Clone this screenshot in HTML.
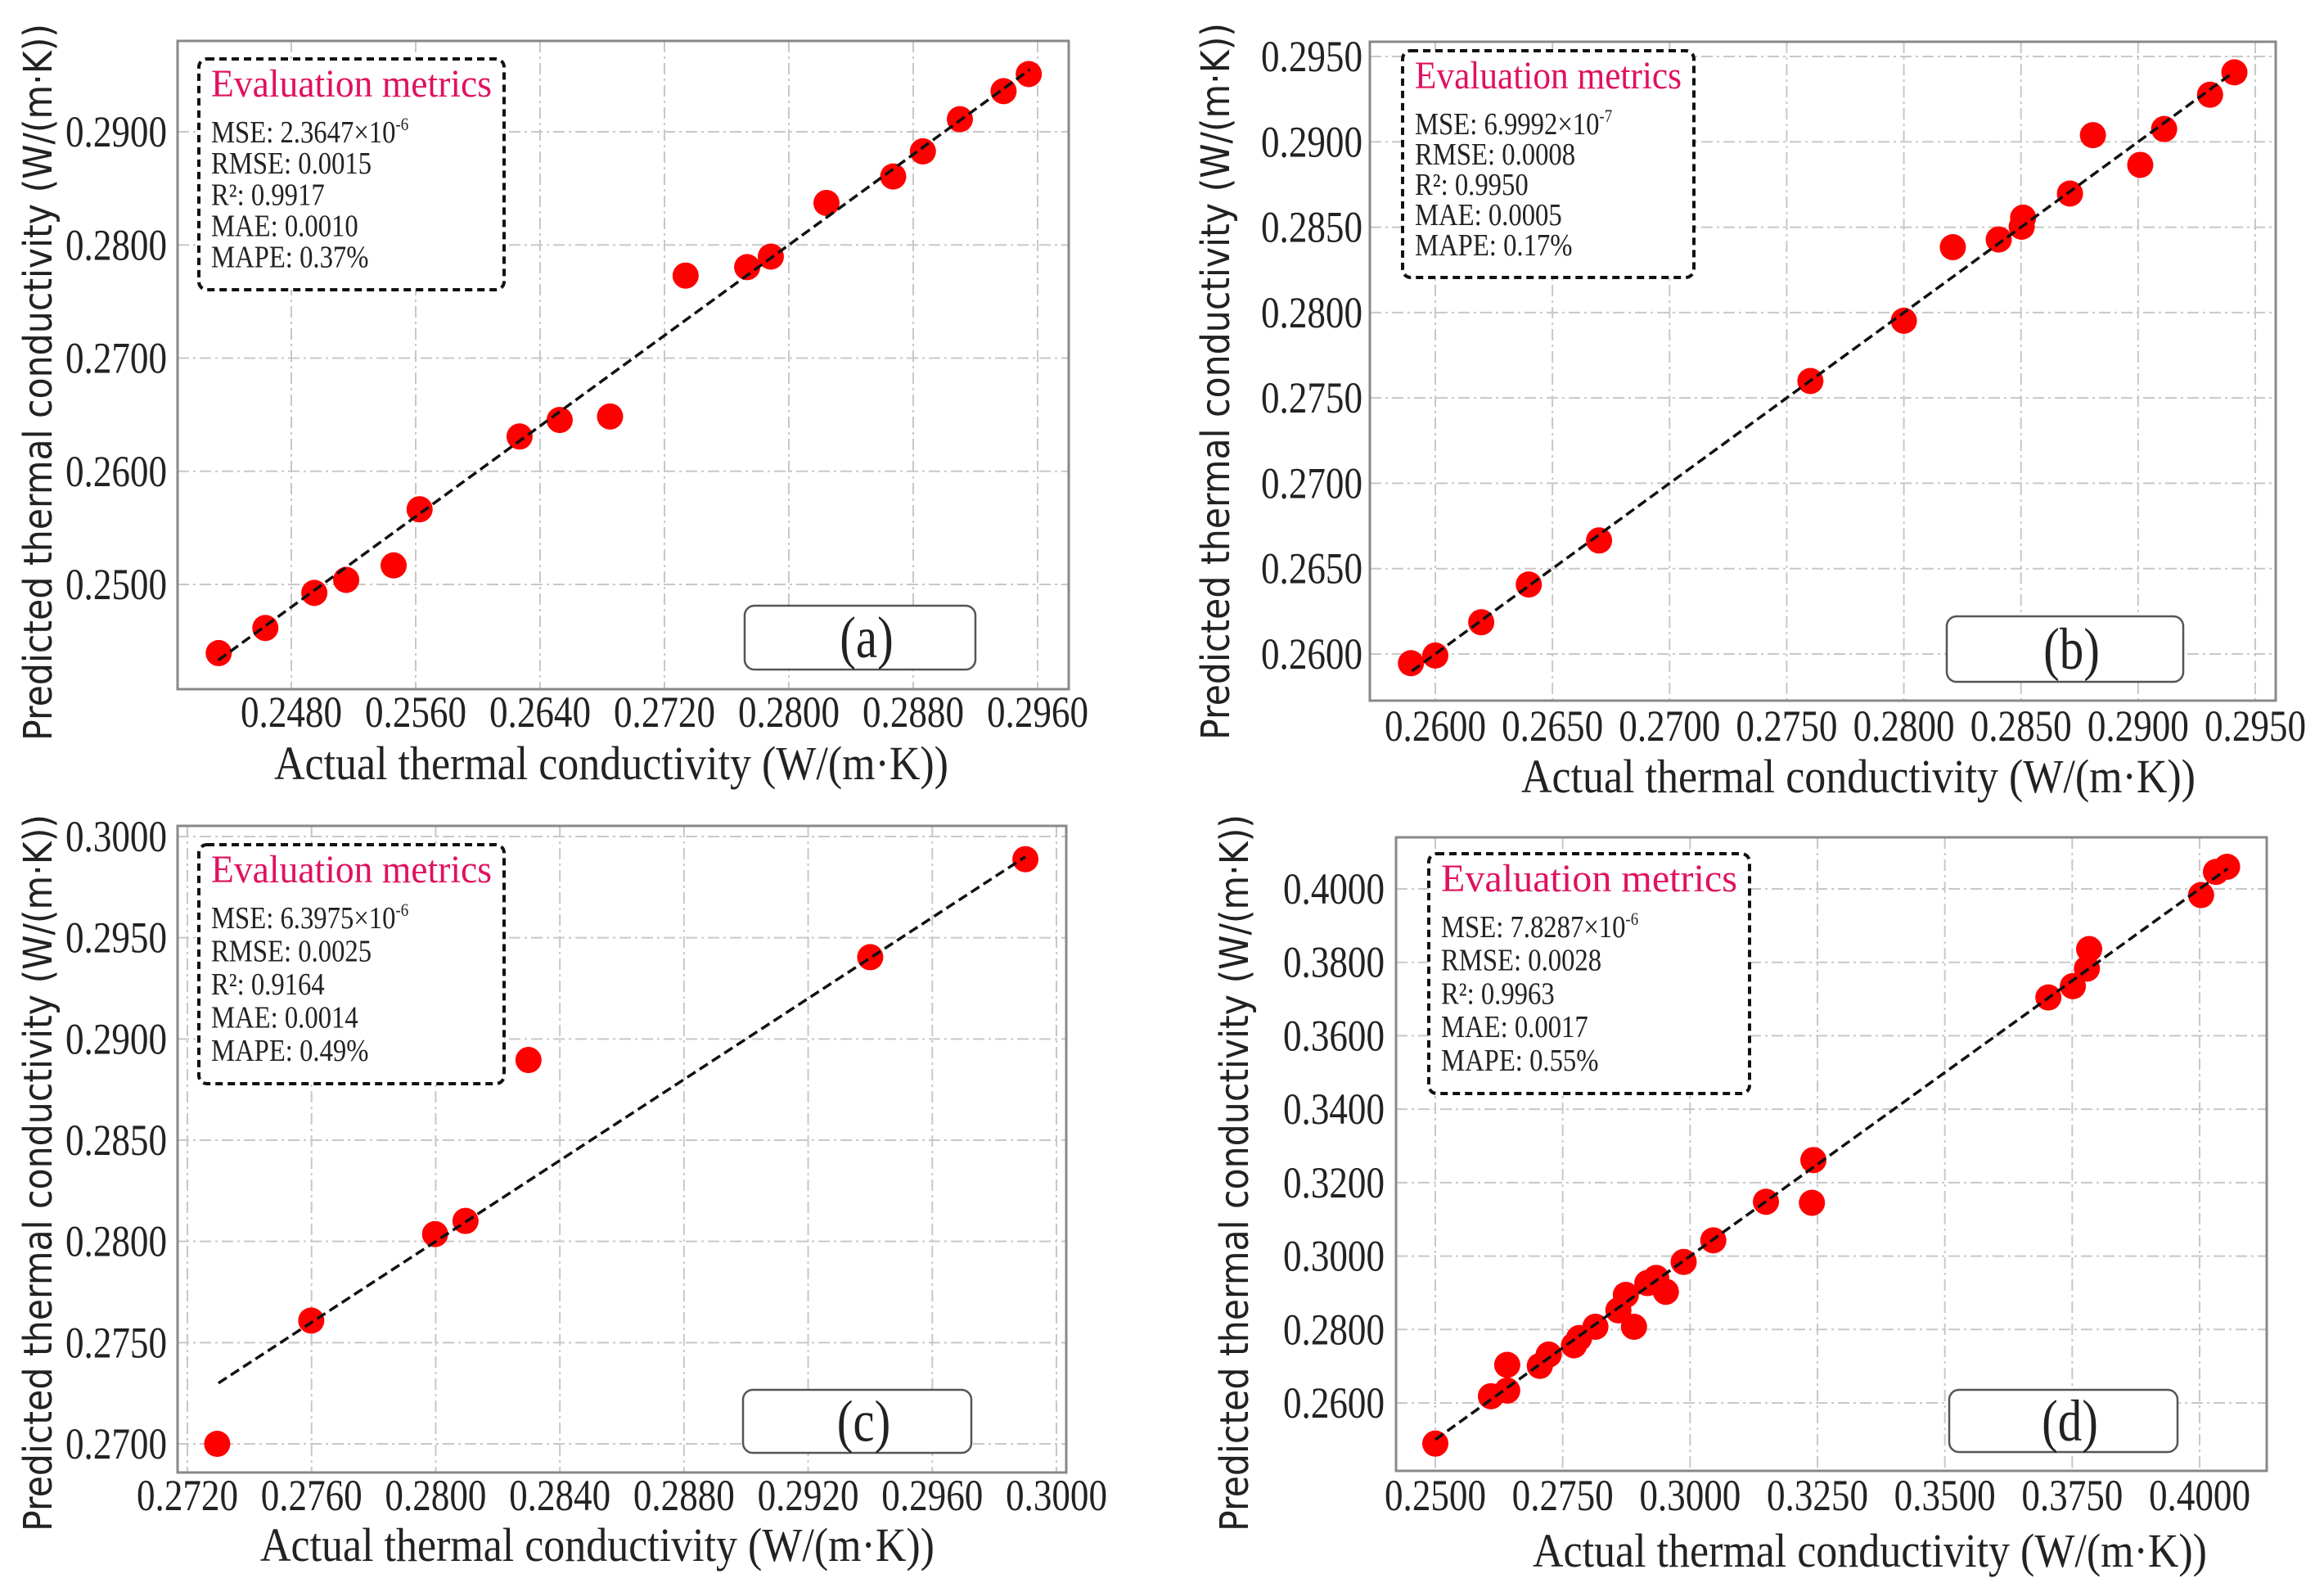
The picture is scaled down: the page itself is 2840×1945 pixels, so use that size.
<!DOCTYPE html>
<html><head><meta charset="utf-8">
<style>
html,body{margin:0;padding:0;background:#fff;overflow:hidden;}
svg{display:block;}
</style></head>
<body>
<svg id="fig" xmlns="http://www.w3.org/2000/svg" width="2840" height="1945" viewBox="0 0 2840 1945"></svg>
<script>
// ---- Panel (a) data ----
const aActual = [0.24333,0.24633,0.24948,0.25153,0.25458,0.25625,0.26268,0.26526,0.26850,0.27336,0.27732,0.27884,0.28242,0.28671,0.28862,0.29100,0.29381,0.29543];
const aPred   = [0.24393,0.24615,0.24925,0.25040,0.25168,0.25664,0.26307,0.26453,0.26484,0.27729,0.27804,0.27897,0.28371,0.28605,0.28827,0.29111,0.29359,0.29510];
const aXTicks = [0.2480,0.2560,0.2640,0.2720,0.2800,0.2880,0.2960];
const aYTicks = [0.2500,0.2600,0.2700,0.2800,0.2900];
const aLine = [0.2433,0.2955];
const aMetrics = ["MSE: 2.3647×10","RMSE: 0.0015","R²: 0.9917","MAE: 0.0010","MAPE: 0.37%"];
const aExp = "-6";
// ---- Panel (b) data ----
const bActual = [0.25896,0.26000,0.26196,0.26399,0.26699,0.27601,0.28000,0.28209,0.28405,0.28503,0.28509,0.28709,0.28807,0.29009,0.29111,0.29307,0.29411];
const bPred   = [0.25946,0.25991,0.26186,0.26407,0.26665,0.27599,0.27952,0.28383,0.28428,0.28503,0.28556,0.28697,0.29039,0.28865,0.29075,0.29276,0.29407];
const bXTicks = [0.2600,0.2650,0.2700,0.2750,0.2800,0.2850,0.2900,0.2950];
const bYTicks = [0.2600,0.2650,0.2700,0.2750,0.2800,0.2850,0.2900,0.2950];
const bLine = [0.2590,0.2940];
const bMetrics = ["MSE: 6.9992×10","RMSE: 0.0008","R²: 0.9950","MAE: 0.0005","MAPE: 0.17%"];
const bExp = "-7";
// ---- Panel (c) data ----
const cActual = [0.27296,0.27599,0.27998,0.28096,0.28299,0.29400,0.29900];
const cPred   = [0.27000,0.27609,0.28036,0.28101,0.28896,0.29404,0.29888];
const cXTicks = [0.2720,0.2760,0.2800,0.2840,0.2880,0.2920,0.2960,0.3000];
const cYTicks = [0.2700,0.2750,0.2800,0.2850,0.2900,0.2950,0.3000];
const cLine = [0.2730,0.2990];
const cMetrics = ["MSE: 6.3975×10","RMSE: 0.0025","R²: 0.9164","MAE: 0.0014","MAPE: 0.49%"];
const cExp = "-6";
// ---- Panel (d) data ----
const dActual = [0.2500,0.26091,0.26411,0.26411,0.27051,0.27226,0.27721,0.27822,0.28142,0.28593,0.28739,0.28899,0.29161,0.29335,0.29525,0.29874,0.30456,0.31489,0.32391,0.32420,0.37032,0.37512,0.37788,0.37832,0.40029,0.40320,0.40539];
const dPred   = [0.24893,0.26182,0.27037,0.26336,0.27009,0.27317,0.27570,0.27766,0.28074,0.28522,0.28943,0.28074,0.29265,0.29405,0.29027,0.29840,0.30428,0.31479,0.31451,0.32614,0.37043,0.37351,0.37828,0.38361,0.39832,0.40462,0.40602];
const dXTicks = [0.2500,0.2750,0.3000,0.3250,0.3500,0.3750,0.4000];
const dYTicks = [0.2600,0.2800,0.3000,0.3200,0.3400,0.3600,0.3800,0.4000];
const dLine = [0.2500,0.4055];
const dMetrics = ["MSE: 7.8287×10","RMSE: 0.0028","R²: 0.9963","MAE: 0.0017","MAPE: 0.55%"];
const dExp = "-6";

const NS = "http://www.w3.org/2000/svg";
const svg = document.getElementById('fig');
function mk(tag, attrs, parent){
  const e = document.createElementNS(NS, tag);
  for (const k in attrs) e.setAttribute(k, attrs[k]);
  (parent||svg).appendChild(e);
  return e;
}
function condense(t, f){
  const w = t.getComputedTextLength();
  t.setAttribute('textLength', (w * f).toFixed(1));
  t.setAttribute('lengthAdjust', 'spacingAndGlyphs');
}

const panels = [
  {id:'a', act:aActual, pred:aPred, xt:aXTicks, yt:aYTicks, line:aLine, met:aMetrics, exp:aExp,
   frame:[217,50,1306,842], xr:[0.2480,356,0.2960,1268], yr:[0.2500,714,0.2900,161],
   xlabBase:888, ylabRight:204, xTitle:[747,952], yTitleX:45, yTitleC:467,
   mbox:[243,72,616,354], lbox:[910,740,1192,818]},
  {id:'b', act:bActual, pred:bPred, xt:bXTicks, yt:bYTicks, line:bLine, met:bMetrics, exp:bExp,
   frame:[1674,51,2781,856], xr:[0.2600,1754,0.2950,2756], yr:[0.2600,799,0.2950,69],
   xlabBase:905, ylabRight:1665, xTitle:[2271,968], yTitleX:1484, yTitleC:466,
   mbox:[1714,62,2070,339], lbox:[2379,753,2668,833]},
  {id:'c', act:cActual, pred:cPred, xt:cXTicks, yt:cYTicks, line:cLine, met:cMetrics, exp:cExp,
   frame:[217,1009,1303,1799], xr:[0.2720,229,0.3000,1291], yr:[0.2700,1764,0.3000,1022],
   xlabBase:1845, ylabRight:204, xTitle:[730,1907], yTitleX:45, yTitleC:1433,
   mbox:[243,1032,616,1324], lbox:[908,1698,1187,1775]},
  {id:'d', act:dActual, pred:dPred, xt:dXTicks, yt:dYTicks, line:dLine, met:dMetrics, exp:dExp,
   frame:[1706,1023,2770,1797], xr:[0.2500,1754,0.4000,2688], yr:[0.2600,1714,0.4000,1086],
   xlabBase:1845, ylabRight:1692, xTitle:[2285,1914], yTitleX:1507, yTitleC:1433,
   mbox:[1746,1043,2138,1336], lbox:[2382,1698,2661,1774]}
];

panels.forEach(p => {
  const g = mk('g', {});
  
  
  const X = v => p.xr[1] + (v - p.xr[0]) / (p.xr[2] - p.xr[0]) * (p.xr[3] - p.xr[1]);
  const Y = v => p.yr[1] + (v - p.yr[0]) / (p.yr[2] - p.yr[0]) * (p.yr[3] - p.yr[1]);
  const [fl, ft, fr, fb] = p.frame;

  p.xt.forEach(t => {
    const l = mk('line', {x1:X(t), x2:X(t), y1:ft, y2:fb, stroke:'#c8c8c8', 'stroke-width':2, 'stroke-dasharray':'14 5 3 5'}, g);
    
    
    const tx = mk('text', {x:X(t), y:p.xlabBase, 'text-anchor':'middle', 'font-family':'Liberation Serif, serif', 'font-size':54, fill:'#222', textLength:124, lengthAdjust:'spacingAndGlyphs'}, g);
    tx.textContent = t.toFixed(4);
    
    
  });
  p.yt.forEach(t => {
    const l = mk('line', {x1:fl, x2:fr, y1:Y(t), y2:Y(t), stroke:'#c8c8c8', 'stroke-width':2, 'stroke-dasharray':'14 5 3 5'}, g);
    
    
    const tx = mk('text', {x:p.ylabRight, y:Y(t)+18, 'text-anchor':'end', 'font-family':'Liberation Serif, serif', 'font-size':54, fill:'#222', textLength:124, lengthAdjust:'spacingAndGlyphs'}, g);
    tx.textContent = t.toFixed(4);
    
    
  });

  const fr1 = mk('rect', {x:fl, y:ft, width:fr-fl, height:fb-ft, fill:'none', stroke:'#888', 'stroke-width':3}, g);
  
  

  p.act.forEach((a, i) => {
    const c = mk('ellipse', {cx:X(a), cy:Y(p.pred[i]), rx:16, ry:16, fill:'#f00'}, g);
    
    
  });

  const ln = mk('line', {x1:X(p.line[0]), y1:Y(p.line[0]), x2:X(p.line[1]), y2:Y(p.line[1]), stroke:'#111', 'stroke-width':3.5, 'stroke-dasharray':'12 6'}, g);
  
  

  const [ml, mt, mr, mb] = p.mbox;
  const mr1 = mk('rect', {x:ml, y:mt, width:mr-ml, height:mb-mt, rx:10, fill:'#fff', stroke:'#111', 'stroke-width':4, 'stroke-dasharray':'9 6'}, g);
  
  
  const tt = mk('text', {x:ml+15, y:mt+46, 'font-family':'Liberation Serif, serif', 'font-size':48, fill:'#e0115f', textLength:(mr-ml)-30, lengthAdjust:'spacingAndGlyphs'}, g);
  tt.textContent = 'Evaluation metrics';
  
  
  const step = ((mb-mt) - 118) / 4.3;
  p.met.forEach((m, i) => {
    const t = mk('text', {x:ml+15, y:mt+102+i*step, 'font-family':'Liberation Serif, serif', 'font-size':38, fill:'#222'}, g);
    t.textContent = m;
    if (i === 0) {
      const sp = mk('tspan', {'font-size':22, dy:-15}, t);
      sp.textContent = p.exp;
    }
    
    
    condense(t, 0.86);
  });

  const [ll, lt, lr, lb] = p.lbox;
  const lr1 = mk('rect', {x:ll, y:lt, width:lr-ll, height:lb-lt, rx:12, fill:'#fff', stroke:'#555', 'stroke-width':2.5}, g);
  
  
  const lt1 = mk('text', {x:(ll+lr)/2+8, y:(lt+lb)/2+24, 'text-anchor':'middle', 'font-family':'Liberation Serif, serif', 'font-size':72, fill:'#222'}, g);
  lt1.textContent = '(' + p.id + ')';
  
  
  condense(lt1, 0.82);

  const xt = mk('text', {x:p.xTitle[0], y:p.xTitle[1], 'text-anchor':'middle', 'font-family':'Liberation Serif, serif', 'font-size':58, fill:'#222', textLength:824, lengthAdjust:'spacingAndGlyphs'}, g);
  xt.textContent = 'Actual thermal conductivity (W/(m·K))';
  
  
  const yt = mk('text', {x:0, y:0, 'text-anchor':'middle', 'font-family':'DejaVu Sans, sans-serif', 'font-size':48, fill:'#222', textLength:876, lengthAdjust:'spacingAndGlyphs', transform:'translate(' + (p.yTitleX+18) + ',' + p.yTitleC + ') rotate(-90)'}, g);
  yt.textContent = 'Predicted thermal conductivity (W/(m·K))';
  
  
});
</script>
</body></html>
